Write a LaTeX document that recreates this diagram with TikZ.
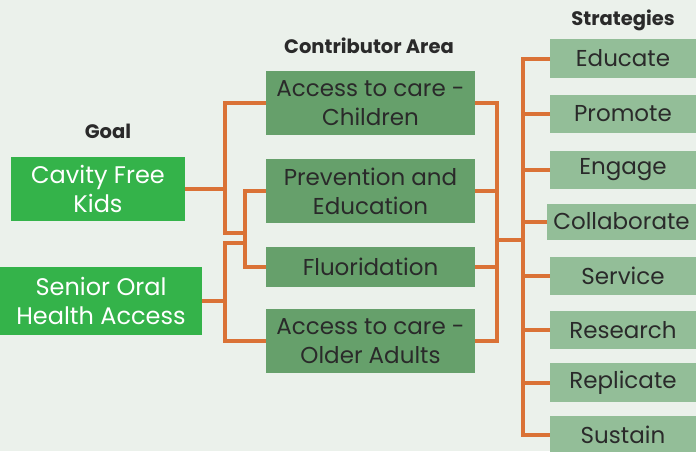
\documentclass[tikz,border=0pt]{standalone}
\usepackage{fontspec}
\setmainfont{Poppins}
\begin{document}
\begin{tikzpicture}[x=1pt,y=-1pt,
  every node/.style={inner sep=0pt, outer sep=0pt},
  goalbox/.style={fill=goalgreen, text=white, align=center, font=\fontsize{24}{29}\selectfont},
  contribbox/.style={fill=contribgreen, text=darktext, align=center, minimum width=209pt, font=\fontsize{23}{29}\selectfont},
  stratbox/.style={fill=stratgreen, text=darktext, minimum width=146pt, minimum height=38pt, font=\fontsize{23}{26}\selectfont},
  header/.style={text=darktext, font=\fontsize{19.5}{22}\selectfont\bfseries},
  conn/.style={draw=linkorange, line width=4pt, line join=miter}
]
\definecolor{bg}{HTML}{EBF1EB}
\definecolor{goalgreen}{HTML}{34B34A}
\definecolor{contribgreen}{HTML}{66A06B}
\definecolor{stratgreen}{HTML}{93BE98}
\definecolor{linkorange}{HTML}{DA7236}
\definecolor{darktext}{HTML}{2A2A2A}
\fill[bg] (0,0) rectangle (696,451);
\useasboundingbox (0,0) rectangle (696,451);
\begin{scope}
\clip (0,0) rectangle (696,451);
\coordinate (bA) at (225,0);
\coordinate (bB) at (245,0);
\coordinate (bC) at (497,0);
\coordinate (bD) at (523,0);
% headers
\node[header] (hgoal) at (108,131) {Goal};
\node[header] (hcontrib) at (369,46) {Contributor Area};
\node[header] (hstrat) at (623,20) {Strategies};
% goal boxes
\node[goalbox, minimum width=174pt, minimum height=64pt] (g1) at (98,189) {Cavity Free\\Kids};
\node[goalbox, minimum width=202pt, minimum height=68pt] (g2) at (101,301) {Senior Oral\\Health Access};
% contributor boxes
\node[contribbox, minimum height=64pt] (c1) at (370.5,103) {Access to care -\\Children};
\node[contribbox, minimum height=64pt] (c2) at (370.5,191) {Prevention and\\Education};
\node[contribbox, minimum height=40pt] (c3) at (370.5,267) {Fluoridation};
\node[contribbox, minimum height=64pt] (c4) at (370.5,341) {Access to care -\\Older Adults};
% strategy boxes
\node[stratbox, minimum height=39pt] (s1) at (623,58.5) {Educate};
\node[stratbox] (s2) at (623,114) {Promote};
\node[stratbox] (s3) at (623,170) {Engage};
\node[stratbox, minimum width=149pt, minimum height=36pt] (s4) at (621.5,221.5) {Collaborate};
\node[stratbox] (s5) at (623,276) {Service};
\node[stratbox] (s6) at (623,330) {Research};
\node[stratbox, minimum height=39pt] (s7) at (623,382.5) {Replicate};
\node[stratbox] (s8) at (623,435) {Sustain};
% left connectors
\coordinate (j1) at (245,233);
\coordinate (j2) at (245,243);
\draw[conn] (c1.west) -| (bA |- j1) -- (j1);
\draw[conn] (g1.east) -- (bA |- g1.east);
\draw[conn] (c2.west) -| (bB |- c3.west) -- (c3.west);
\draw[conn] (c4.west) -| (bA |- j2) -- (j2);
\draw[conn] (g2.east) -- (bA |- g2.east);
% right connectors
\coordinate (j3) at (523,240);
\draw[conn] (c1.east) -| (bC |- c4.east) -- (c4.east);
\draw[conn] (c2.east) -- (bC |- c2.east);
\draw[conn] (c3.east) -- (bC |- c3.east);
\draw[conn] (bC |- j3) -- (j3);
\draw[conn] (s1.west) -| (bD |- s8.west) -- (s8.west);
\foreach \s in {s2,s3,s4,s5,s6,s7} \draw[conn] (\s.west) -- (bD |- \s.west);
\end{scope}
\end{tikzpicture}
\end{document}
